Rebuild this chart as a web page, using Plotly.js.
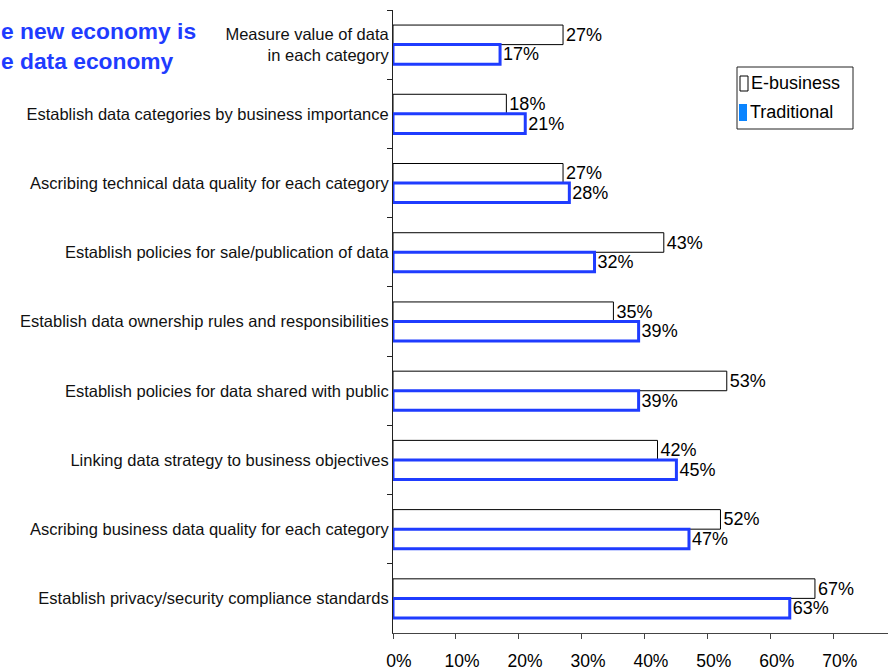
<!DOCTYPE html>
<html><head><meta charset="utf-8">
<script src="https://cdn.plot.ly/plotly-3.0.1.min.js"></script>
<style>html,body{margin:0;padding:0;background:#fff}#chart{width:888px;height:671px}</style>
</head><body><div id="chart"></div>
<script>
const categories = [
  "Measure value of data<br>in each category",
  "Establish data categories by business importance",
  "Ascribing technical data quality for each category",
  "Establish policies for sale/publication of data",
  "Establish data ownership rules and responsibilities",
  "Establish policies for data shared with public",
  "Linking data strategy to business objectives",
  "Ascribing business data quality for each category",
  "Establish privacy/security compliance standards"
];
const ebusiness = [27, 18, 27, 43, 35, 53, 42, 52, 67];
const traditional = [17, 21, 28, 32, 39, 39, 45, 47, 63];
const xTicks = [0, 10, 20, 30, 40, 50, 60, 70];
const xTickLabels = ["0%", "10%", "20%", "30%", "40%", "50%", "60%", "70%"];
const seriesNames = ["E-business", "Traditional"];

const FONT = "Liberation Sans, Arial, sans-serif";
const blue = "#1f3cff";
const legendBlue = "#0a84ff";

const traces = [
  {type:"bar", orientation:"h", name:seriesNames[0], y:categories, x:ebusiness,
   text:ebusiness.map(v=>v+"%"), textposition:"outside", cliponaxis:false, constraintext:"none",
   textfont:{family:FONT, size:18, color:"#000"},
   marker:{color:"#fff", line:{color:"#000", width:1}}, showlegend:false, hoverinfo:"skip"},
  {type:"bar", orientation:"h", name:seriesNames[1], y:categories, x:traditional,
   text:traditional.map(v=>v+"%"), textposition:"outside", cliponaxis:false, constraintext:"none",
   textfont:{family:FONT, size:18, color:"#000"},
   marker:{color:"#fff", line:{color:blue, width:3}}, showlegend:false, hoverinfo:"skip"}
];

// pixel -> paper helpers (plot area: x 393..888, y 10..633)
const L = 393, T = 10, W = 495, H = 623;
const px = p => (p - L) / W;
const py = p => 1 - (p - T) / H;

const layout = {
  width:888, height:671,
  margin:{l:L, r:888-L-W, t:T, b:671-T-H},
  paper_bgcolor:"#fff", plot_bgcolor:"#fff",
  barmode:"group", bargap:0.435, bargroupgap:0,
  font:{family:FONT, color:"#000"},
  showlegend:false,
  xaxis:{range:[0,78.6], tickvals:xTicks, ticktext:xTickLabels, showgrid:false, zeroline:false,
    showline:true, linecolor:"#444", linewidth:1, ticks:"outside", ticklen:5, tickcolor:"#444",
    tickfont:{size:17.5, color:"#000"}, ticklabelstandoff:7, ticklabelshift:6},
  yaxis:{type:"category", autorange:"reversed", showgrid:false, zeroline:false,
    showline:true, linecolor:"#222", linewidth:1, ticks:"outside", ticklen:5, tickcolor:"#222",
    tickson:"boundaries", tickfont:{size:16.5, color:"#111"}, ticklabelstandoff:0},
  shapes:[
    {type:"rect", xref:"paper", yref:"paper", x0:px(737), x1:px(853), y0:py(67), y1:py(129),
     line:{color:"#222", width:1}, fillcolor:"#fff", layer:"above"},
    {type:"rect", xref:"paper", yref:"paper", x0:px(740), x1:px(748), y0:py(76), y1:py(91),
     line:{color:"#000", width:1}, fillcolor:"#fff", layer:"above"},
    {type:"rect", xref:"paper", yref:"paper", x0:px(739), x1:px(747), y0:py(104), y1:py(121),
     line:{width:0}, fillcolor:legendBlue, layer:"above"}
  ],
  annotations:[
    {xref:"paper", yref:"paper", x:px(0), y:py(46.5), xanchor:"left", yanchor:"middle",
     align:"left", showarrow:false, xshift:-1,
     text:"<b>e new economy is<br>e data economy</b>",
     font:{size:22.8, color:blue, family:FONT}},
    {xref:"paper", yref:"paper", x:px(749), y:py(83), xanchor:"left", yanchor:"middle",
     showarrow:false, text:seriesNames[0], font:{size:18, color:"#000", family:FONT}},
    {xref:"paper", yref:"paper", x:px(748), y:py(112), xanchor:"left", yanchor:"middle",
     showarrow:false, text:seriesNames[1], font:{size:18, color:"#000", family:FONT}}
  ]
};
Plotly.newPlot("chart", traces, layout, {displayModeBar:false, staticPlot:true});
</script></body></html>
